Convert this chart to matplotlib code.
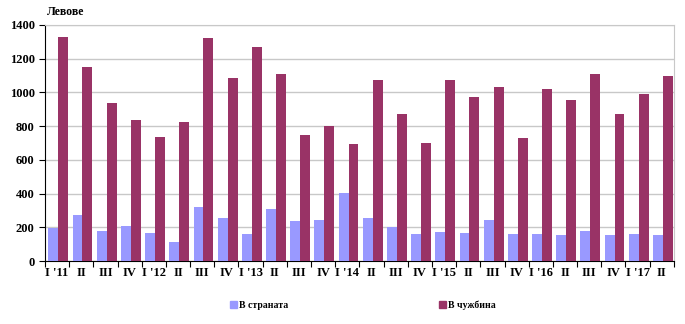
import matplotlib
matplotlib.use("Agg")
import matplotlib.pyplot as plt
import numpy as np
from matplotlib.patches import Patch

labels = ["I '11", "II", "III", "IV", "I '12", "II", "III", "IV", "I '13", "II", "III", "IV",
          "I '14", "II", "III", "IV", "I '15", "II", "III", "IV", "I '16", "II", "III", "IV",
          "I '17", "II"]
domestic = [197, 274, 179, 209, 168, 116, 321, 256, 162, 310, 239, 245,
            404, 256, 203, 162, 174, 168, 245, 162, 162, 156, 179, 156, 162, 156]
abroad = [1330, 1152, 935, 834, 734, 822, 1323, 1087, 1270, 1110, 745, 799,
          692, 1073, 872, 700, 1073, 972, 1031, 730, 1023, 954, 1112, 872, 988, 1100]
series_names = ["В страната", "В чужбина"]
colors = ["#9999FF", "#993366"]

plt.rcParams['font.family'] = ['Liberation Serif', 'DejaVu Serif']
plt.rcParams['font.weight'] = 'bold'

fig = plt.figure(figsize=(6.85, 3.24), dpi=100)
ax = fig.add_axes([0.0657, 0.194, 0.918, 0.729])

x = np.arange(len(labels))
w = 0.41
ax.bar(x - w/2 + 0.05, domestic, width=w, color=colors[0], zorder=3)
ax.bar(x + w/2 + 0.05, abroad, width=w, color=colors[1], zorder=3)

ax.set_xlim(-0.5, len(labels) - 0.5)
ax.set_ylim(0, 1400)
ax.set_yticks(np.arange(0, 1401, 200))
ax.yaxis.grid(True, color="#C8C8C8", linewidth=1.0, zorder=0)
ax.set_axisbelow(True)

ax.set_xticks(x)
ax.set_xticklabels(labels, fontsize=9, fontweight='bold')
ax.set_xticks(np.arange(-0.5, len(labels), 1), minor=True)
ax.tick_params(axis='x', which='major', length=0, pad=4)
ax.tick_params(axis='x', which='minor', length=4, direction='out', width=0.8)
ax.tick_params(axis='y', length=4, direction='out', labelsize=9, width=0.8)
for lab in ax.get_yticklabels():
    lab.set_fontweight('bold')

ax.spines['top'].set_color('#C8C8C8')
ax.spines['right'].set_color('#C8C8C8')
ax.spines['left'].set_color('black')
ax.spines['bottom'].set_color('black')

fig.text(0.068, 0.945, "Левове", fontsize=8.5, fontweight='bold', ha='left', va='bottom')

handles = [Patch(color=colors[0], label=series_names[0]),
           Patch(color=colors[1], label=series_names[1])]
fig.legend(handles=handles, loc='center', bbox_to_anchor=(0.53, 0.058), ncol=2,
           frameon=False, handlelength=0.7, handleheight=0.7,
           handletextpad=0.2, columnspacing=15.5, prop={'weight': 'bold', 'size': 7})

fig.savefig("out.png", dpi=100)
